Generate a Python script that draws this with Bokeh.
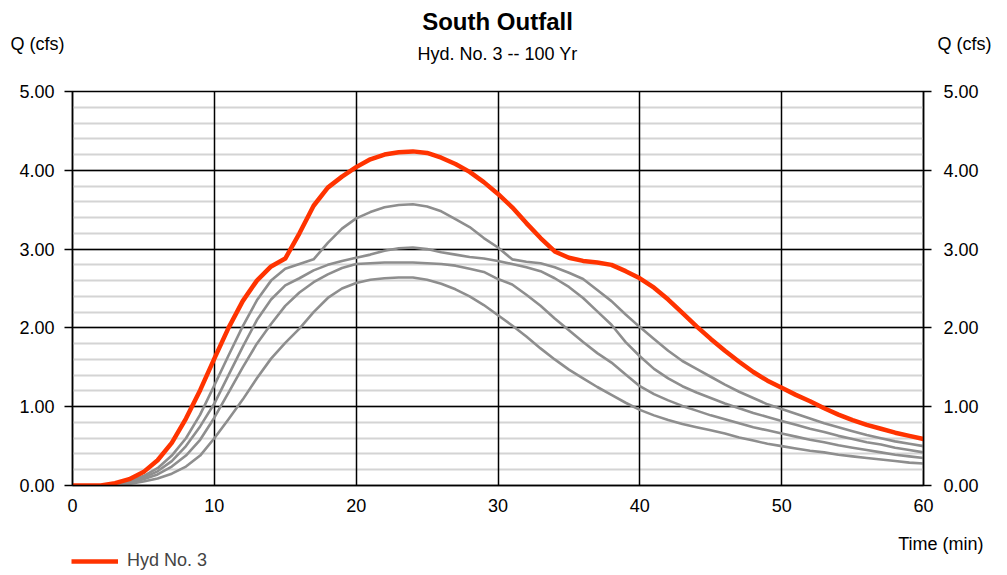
from bokeh.plotting import figure
from bokeh.layouts import column
from bokeh.models import (Range1d, LinearAxis, SingleIntervalTicker, FixedTicker,
                          PrintfTickFormatter, Label, Legend, LegendItem)
from bokeh.embed import file_html
from bokeh.resources import INLINE

# ---------------- data ----------------
time_min = list(range(0, 61))

hyd3 = [0, 0, 0, 0.03, 0.08, 0.17, 0.32, 0.54, 0.85, 1.21,
        1.61, 2.0, 2.34, 2.6, 2.78, 2.88, 3.2, 3.55, 3.78, 3.92,
        4.04, 4.14, 4.2, 4.23, 4.24, 4.22, 4.16, 4.08, 3.98, 3.85,
        3.7, 3.53, 3.33, 3.14, 2.97, 2.89, 2.85, 2.83, 2.8, 2.72,
        2.63, 2.51, 2.36, 2.19, 2.02, 1.86, 1.71, 1.57, 1.44, 1.33,
        1.24, 1.15, 1.07, 0.98, 0.9, 0.83, 0.77, 0.72, 0.67, 0.63, 0.59]

other_a = [0, 0, 0, 0.01, 0.05, 0.12, 0.22, 0.38, 0.6, 0.9,
           1.27, 1.65, 2.02, 2.35, 2.6, 2.75, 2.81, 2.87, 3.08, 3.26,
           3.39, 3.47, 3.53, 3.56, 3.57, 3.54, 3.48, 3.38, 3.28, 3.14,
           3.02, 2.87, 2.84, 2.82, 2.77, 2.7, 2.62, 2.48, 2.34, 2.17,
           2.01, 1.86, 1.71, 1.58, 1.48, 1.38, 1.28, 1.19, 1.11, 1.03,
           0.97, 0.91, 0.85, 0.79, 0.74, 0.69, 0.64, 0.6, 0.56, 0.53, 0.5]

other_b = [0, 0, 0, 0.01, 0.04, 0.1, 0.18, 0.31, 0.5, 0.75,
           1.04, 1.4, 1.76, 2.1, 2.36, 2.54, 2.63, 2.73, 2.8, 2.85,
           2.89, 2.93, 2.98, 3.01, 3.02, 3.0, 2.96, 2.93, 2.9, 2.88,
           2.85, 2.81, 2.77, 2.72, 2.63, 2.52, 2.38, 2.21, 2.04, 1.82,
           1.64, 1.48, 1.36, 1.26, 1.18, 1.11, 1.04, 0.98, 0.92, 0.87,
           0.82, 0.77, 0.72, 0.68, 0.63, 0.59, 0.55, 0.52, 0.48, 0.45, 0.42]

other_c = [0, 0, 0, 0.005, 0.03, 0.08, 0.14, 0.24, 0.38, 0.58,
           0.86, 1.18, 1.5, 1.8, 2.05, 2.28, 2.45, 2.58, 2.68, 2.76,
           2.81, 2.82, 2.83, 2.83, 2.83, 2.82, 2.81, 2.79, 2.75, 2.71,
           2.62, 2.55, 2.42, 2.28, 2.12, 1.97, 1.82, 1.68, 1.56, 1.41,
           1.26, 1.16, 1.08, 1.01, 0.95, 0.89, 0.84, 0.79, 0.74, 0.7,
           0.66, 0.62, 0.58, 0.55, 0.51, 0.48, 0.45, 0.42, 0.39, 0.37, 0.35]

other_d = [0, 0, 0, 0, 0.02, 0.05, 0.09, 0.15, 0.24, 0.38,
           0.6, 0.84, 1.09, 1.36, 1.61, 1.81, 1.99, 2.2, 2.38, 2.5,
           2.57, 2.61, 2.63, 2.64, 2.64, 2.61, 2.56, 2.49, 2.4, 2.29,
           2.16, 2.03, 1.89, 1.74, 1.6, 1.47, 1.36, 1.25, 1.15, 1.05,
           0.96, 0.89, 0.83, 0.78, 0.74, 0.7, 0.66, 0.61, 0.57, 0.53,
           0.5, 0.47, 0.44, 0.42, 0.39, 0.37, 0.35, 0.33, 0.31, 0.29, 0.28]

x_ticks = [0, 10, 20, 30, 40, 50, 60]
title_text = "South Outfall"
subtitle_text = "Hyd. No. 3 -- 100 Yr"
y_label = "Q (cfs)"
x_label = "Time (min)"
legend_label = "Hyd No. 3"

# ---------------- styling ----------------
FONT = "Liberation Sans"
FS = "18px"
RED = "#ff3300"
GRAY = "#8e8e8e"
W = 1007
HEADER_H = 65
MAIN_BOTTOM = 525          # page y where the chart figure ends
FOOTER_H = 575 - MAIN_BOTTOM


def strip(height):
    f = figure(width=W, height=height, output_backend="svg", toolbar_location=None,
               title=None, x_range=Range1d(0, W), y_range=Range1d(height, 0),
               min_border=0, x_axis_location=None, y_axis_location=None,
               outline_line_color=None, border_fill_color="white",
               frame_align=False)
    f.grid.visible = False
    return f


def add_text(fig, x, y, text, align="left", size=FS, style="normal"):
    fig.add_layout(Label(x=x, y=y, text=text, text_align=align, text_baseline="middle",
                         text_font=FONT, text_font_size=size, text_font_style=style,
                         text_color="black"))


# ---------------- header (titles) ----------------
header = strip(HEADER_H)
add_text(header, 497, 21, title_text, align="center", size="24px", style="bold")
add_text(header, 497, 53, subtitle_text, align="center")
add_text(header, 10, 43, y_label)
add_text(header, 937, 43, y_label)

# ---------------- main chart ----------------
p = figure(width=W, height=MAIN_BOTTOM - HEADER_H, output_backend="svg",
           toolbar_location=None, title=None,
           x_range=Range1d(0, 60), y_range=Range1d(0, 5),
           min_border_left=72, min_border_right=84, min_border_top=91 - HEADER_H,
           min_border_bottom=MAIN_BOTTOM - 485, x_axis_location=None, y_axis_location=None,
           background_fill_color="white", border_fill_color="white", frame_align=False)
p.outline_line_color = "black"
p.outline_line_width = 1.5

yticker = SingleIntervalTicker(interval=1, num_minor_ticks=5)
xticker = FixedTicker(ticks=x_ticks)


def style_axis(ax):
    ax.axis_line_color = "black"
    ax.axis_line_width = 1.5
    ax.major_tick_line_color = "black"
    ax.major_tick_line_width = 1.5
    ax.major_tick_in = 0
    ax.minor_tick_in = 0
    ax.minor_tick_out = 0
    ax.major_label_text_font = FONT
    ax.major_label_text_font_size = FS
    ax.major_label_text_color = "black"


left = LinearAxis(ticker=yticker, formatter=PrintfTickFormatter(format="%.2f"))
style_axis(left)
left.major_tick_out = 8
left.major_label_standoff = 10
p.add_layout(left, "left")

right = LinearAxis(ticker=yticker, formatter=PrintfTickFormatter(format="%.2f"))
style_axis(right)
right.major_tick_out = 8
right.major_label_standoff = 12
p.add_layout(right, "right")

bottom = LinearAxis(ticker=xticker)
style_axis(bottom)
bottom.major_tick_out = 0
bottom.major_label_standoff = 13
p.add_layout(bottom, "below")

p.ygrid.ticker = yticker
p.ygrid.grid_line_color = "black"
p.ygrid.grid_line_width = 1.5
p.ygrid.minor_grid_line_color = "#d4d4d4"
p.ygrid.minor_grid_line_width = 2
p.ygrid.level = "image"
p.xgrid.ticker = xticker
p.xgrid.grid_line_color = "black"
p.xgrid.grid_line_width = 1.5

for series in (other_a, other_b, other_c, other_d):
    p.line(time_min, series, line_color=GRAY, line_width=2.6, line_join="round")

p.line(time_min, hyd3, line_color=RED, line_width=4.5, line_join="round")

# ---------------- footer (x-axis name and legend) ----------------
footer = strip(FOOTER_H)
add_text(footer, 983, 543 - MAIN_BOTTOM, x_label, align="right")
# the legend needs a renderer in this strip: same series, on a range that keeps it off-view
footer.extra_x_ranges = {"offview": Range1d(1000, 2000)}
swatch = footer.line(time_min, hyd3, x_range_name="offview",
                     line_color=RED, line_width=4.5)
legend = Legend(items=[LegendItem(label=legend_label, renderers=[swatch])],
                location=(71, FOOTER_H - (561 - MAIN_BOTTOM) - 10),
                padding=0, margin=0, spacing=0,
                glyph_width=47, glyph_height=20, label_height=20,
                label_standoff=9, label_text_font=FONT, label_text_font_size=FS,
                border_line_alpha=0, background_fill_alpha=0)
footer.add_layout(legend, "center")

layout = column(header, p, footer, spacing=0)
open("out.html", "w").write(file_html(layout, INLINE))
